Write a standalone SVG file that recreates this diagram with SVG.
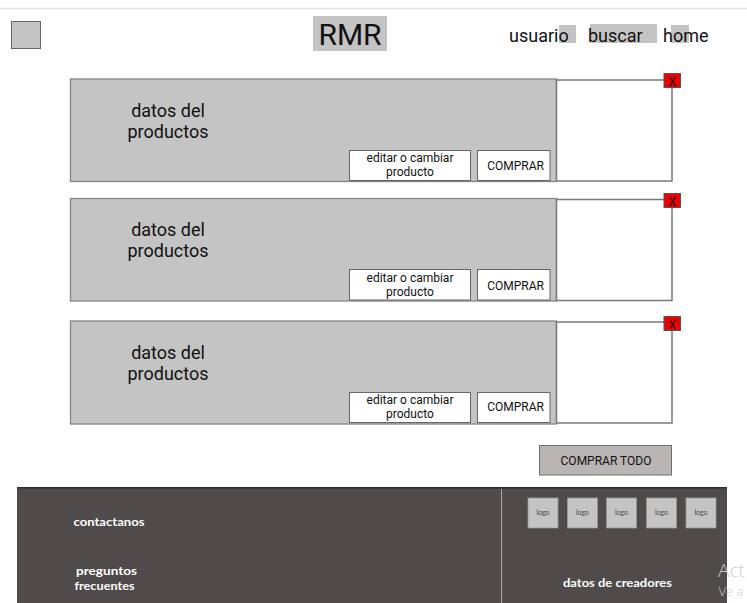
<svg xmlns="http://www.w3.org/2000/svg" width="747" height="603" viewBox="0 0 747 603">
<style>
.t{font-family:Roboto,"Liberation Sans",sans-serif;fill:#111}
.card{fill:#c4c4c4;stroke:#858585;stroke-width:1.3}
.img{fill:#fff;stroke:#7a7a7a;stroke-width:1.5}
.btn{fill:#fff;stroke:#666;stroke-width:1}
.x{fill:#ee0000;stroke:#555;stroke-width:1}
.bt{font-family:Roboto,"Liberation Sans",sans-serif;font-size:12px;fill:#111;text-anchor:middle}
.ct{font-family:Roboto,"Liberation Sans",sans-serif;font-size:18px;fill:#111;text-anchor:middle}
.ft{font-family:Lato,"Liberation Sans",sans-serif;font-weight:700;font-size:11.5px;fill:#fff}
.logo{fill:#c4c4c4;stroke:#999;stroke-width:0.8}
.lt{font-family:Lato,"Liberation Sans",sans-serif;font-size:7px;fill:#444;text-anchor:middle}
.hl{fill:#c4c4c4}
</style>
<rect width="747" height="603" fill="#fff"/>
<line x1="0" y1="8.5" x2="747" y2="8.5" stroke="#e0e0e0" stroke-width="1.5"/>

<g id="menu-icon"><rect x="11.5" y="21.5" width="29" height="27" fill="#c4c4c4" stroke="#666"/></g>

<g id="logo-rmr">
<rect x="313" y="16" width="74" height="35" fill="#c4c4c4"/>
<text class="t" x="350" y="45" font-size="30" text-anchor="middle">RMR</text>
</g>

<g id="nav">
<rect class="hl" x="559" y="25" width="17" height="18"/>
<rect class="hl" x="590" y="24" width="67" height="19"/>
<rect class="hl" x="671" y="25" width="18" height="18"/>
<text class="t" x="509" y="42" font-size="18">usuario</text>
<text class="t" x="588" y="42" font-size="18">buscar</text>
<text class="t" x="663" y="42" font-size="18">home</text>
</g>

<g id="card1">
<rect class="card" x="70.5" y="79" width="486" height="102.5"/>
<rect class="img" x="556.5" y="80" width="115.5" height="101"/>
<rect class="x" x="664" y="73.5" width="16.5" height="14"/>
<text class="t" x="672.3" y="85.5" font-size="12" text-anchor="middle">X</text>
<text class="ct" x="168" y="116.5">datos del</text>
<text class="ct" x="168" y="137.5">productos</text>
<rect class="btn" x="349.5" y="150.5" width="121" height="30"/>
<text class="bt" x="410" y="162">editar o cambiar</text>
<text class="bt" x="410" y="176">producto</text>
<rect class="btn" x="477.5" y="150.5" width="72.5" height="30"/>
<text class="bt" x="515.5" y="169.5">COMPRAR</text>
</g>

<g id="card2">
<rect class="card" x="70.5" y="198.5" width="486" height="102.5"/>
<rect class="img" x="556.5" y="199.5" width="115.5" height="101"/>
<rect class="x" x="664" y="193.5" width="16.5" height="14"/>
<text class="t" x="672.3" y="205.5" font-size="12" text-anchor="middle">X</text>
<text class="ct" x="168" y="236">datos del</text>
<text class="ct" x="168" y="257">productos</text>
<rect class="btn" x="349.5" y="269.5" width="121" height="30.5"/>
<text class="bt" x="410" y="282">editar o cambiar</text>
<text class="bt" x="410" y="296">producto</text>
<rect class="btn" x="477.5" y="269.5" width="72.5" height="30.5"/>
<text class="bt" x="515.5" y="289.5">COMPRAR</text>
</g>

<g id="card3">
<rect class="card" x="70.5" y="321" width="486" height="103"/>
<rect class="img" x="556.5" y="322" width="115.5" height="101"/>
<rect class="x" x="664" y="316.5" width="16.5" height="14"/>
<text class="t" x="672.3" y="328.5" font-size="12" text-anchor="middle">X</text>
<text class="ct" x="168" y="358.5">datos del</text>
<text class="ct" x="168" y="379.5">productos</text>
<rect class="btn" x="349.5" y="392.5" width="121" height="30"/>
<text class="bt" x="410" y="404">editar o cambiar</text>
<text class="bt" x="410" y="418">producto</text>
<rect class="btn" x="477.5" y="392.5" width="72.5" height="30"/>
<text class="bt" x="515.5" y="411">COMPRAR</text>
</g>

<g id="comprar-todo">
<rect x="539.5" y="445.5" width="132" height="29.5" fill="#b9b5b5" stroke="#6e6e6e"/>
<text class="bt" x="606" y="464.5">COMPRAR TODO</text>
</g>

<g id="footer">
<rect x="17" y="487" width="710" height="116" fill="#4f4b4a"/>
<line x1="17" y1="487.8" x2="727" y2="487.8" stroke="#2e2b2b" stroke-width="1.5"/>
<line x1="501.5" y1="489" x2="501.5" y2="603" stroke="#a8a4a4" stroke-width="1"/>
<text class="ft" x="73.5" y="526" textLength="71" lengthAdjust="spacingAndGlyphs">contactanos</text>
<text class="ft" x="76" y="575" textLength="61" lengthAdjust="spacingAndGlyphs">preguntos</text>
<text class="ft" x="74.5" y="589.5" textLength="60" lengthAdjust="spacingAndGlyphs">frecuentes</text>
<text class="ft" x="563" y="586.5" textLength="109" lengthAdjust="spacingAndGlyphs">datos de creadores</text>
</g>

<g id="logos">
<rect class="logo" x="528" y="498" width="30" height="30"/>
<text class="lt" x="543" y="515">logo</text>
<rect class="logo" x="567.5" y="498" width="30" height="30"/>
<text class="lt" x="582.5" y="515">logo</text>
<rect class="logo" x="606.5" y="498" width="30" height="30"/>
<text class="lt" x="621.5" y="515">logo</text>
<rect class="logo" x="646.5" y="498" width="30" height="30"/>
<text class="lt" x="661.5" y="515">logo</text>
<rect class="logo" x="686" y="498" width="30" height="30"/>
<text class="lt" x="701" y="515">logo</text>
</g>

<g id="watermark">
<text x="718" y="577" font-family="'Open Sans','Noto Sans',sans-serif" font-weight="300" font-size="19" fill="#d0d0d0">Act</text>
<text x="718.5" y="596" font-family="'Open Sans','Noto Sans',sans-serif" font-weight="300" font-size="13" fill="#d0d0d0">Ve a</text>
</g>
</svg>
